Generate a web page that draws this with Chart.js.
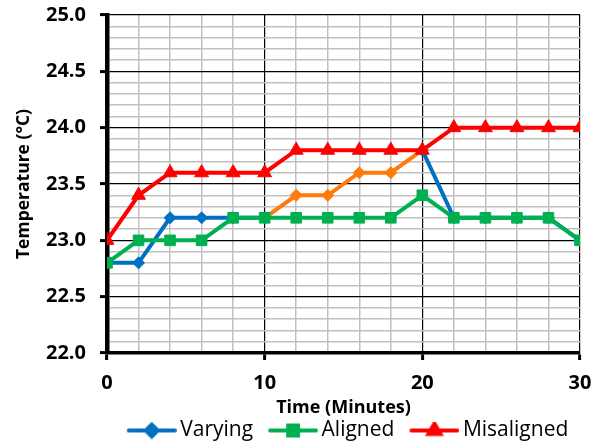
<!DOCTYPE html>
<html>
<head>
<meta charset="utf-8">
<script src="https://cdn.jsdelivr.net/npm/chart.js@4/dist/chart.umd.min.js"></script>
<style>
  body { margin: 0; background: #fff; }
</style>
</head>
<body>
<canvas id="chart" width="601" height="443"></canvas>
<script>
// Data
const minutes = [0, 2, 4, 6, 8, 10, 12, 14, 16, 18, 20, 22, 24, 26, 28, 30]
const varying = [22.8, 22.8, 23.2, 23.2, 23.2, 23.2, 23.4, 23.4, 23.6, 23.6, 23.8, 23.2, 23.2, 23.2, 23.2, 23.0]
const aligned = [22.8, 23.0, 23.0, 23.0, 23.2, 23.2, 23.2, 23.2, 23.2, 23.2, 23.4, 23.2, 23.2, 23.2, 23.2, 23.0]
const misaligned = [23.0, 23.4, 23.6, 23.6, 23.6, 23.6, 23.8, 23.8, 23.8, 23.8, 23.8, 24.0, 24.0, 24.0, 24.0, 24.0]
const seriesNames = ['Varying', 'Aligned', 'Misaligned']
const xTickLabels = [0, 10, 20, 30]
const yTickLabels = [22.0, 22.5, 23.0, 23.5, 24.0, 24.5, 25.0]

// the varying line turns orange between these minutes
const orangeFrom = 10
const orangeTo = 20

const BLUE = '#0070C0'
const GREEN = '#00B050'
const RED = '#FF0000'
const ORANGE = '#FF7A0A'
const FONT = "'Open Sans', sans-serif"

const toPoints = (ys) => minutes.map((x, i) => ({ x, y: ys[i] }))
const isMajorY = (v) => yTickLabels.some((t) => Math.abs(t - v) < 1e-6)
const isMajorX = (v) => xTickLabels.includes(v)
const inOrange = (x) => x > orangeFrom && x < orangeTo

// legend symbol: line with marker in the middle (left part of the image is empty)
function legendIcon(color, style, size) {
  const c = document.createElement('canvas')
  c.width = 65
  c.height = 18
  const ctx = c.getContext('2d')
  ctx.strokeStyle = color
  ctx.lineWidth = 4
  ctx.lineCap = 'round'
  ctx.beginPath()
  ctx.moveTo(17, 9)
  ctx.lineTo(63, 9)
  ctx.stroke()
  ctx.fillStyle = color
  Chart.helpers.drawPoint(ctx, { pointStyle: style, radius: size, borderWidth: 1, rotation: 0 }, 40, 9)
  return c
}

new Chart(document.getElementById('chart'), {
  type: 'line',
  data: {
    datasets: [
      {
        label: seriesNames[0],
        data: toPoints(varying),
        borderColor: BLUE,
        backgroundColor: BLUE,
        pointBackgroundColor: (c) => (c.raw && inOrange(c.raw.x) ? ORANGE : BLUE),
        pointBorderColor: (c) => (c.raw && inOrange(c.raw.x) ? ORANGE : BLUE),
        segment: {
          borderColor: (c) => (c.p0.parsed.x >= orangeFrom && c.p1.parsed.x <= orangeTo ? ORANGE : undefined),
        },
        pointStyle: 'rectRot',
        pointRadius: 6,
        order: 2,
        legendIcon: legendIcon(BLUE, 'rectRot', 6),
      },
      {
        label: seriesNames[1],
        data: toPoints(aligned),
        borderColor: GREEN,
        backgroundColor: GREEN,
        pointStyle: 'rect',
        pointRadius: 7.5,
        order: 1,
        legendIcon: legendIcon(GREEN, 'rect', 7),
      },
      {
        label: seriesNames[2],
        data: toPoints(misaligned),
        borderColor: RED,
        backgroundColor: RED,
        pointStyle: 'triangle',
        pointRadius: 8,
        order: 0,
        legendIcon: legendIcon(RED, 'triangle', 7),
      },
    ],
  },
  options: {
    responsive: false,
    animation: false,
    events: [],
    layout: { padding: { left: 0, right: 21, top: 15, bottom: -8 } },
    elements: {
      line: { borderWidth: 4, tension: 0 },
      point: { borderWidth: 1 },
    },
    scales: {
      x: {
        type: 'linear',
        min: 0,
        max: 30,
        afterFit(scale) {
          scale.height = 60
          scale.paddingLeft = 0
          scale.paddingRight = 0
        },
        ticks: {
          stepSize: 2,
          autoSkip: false,
          maxRotation: 0,
          padding: 11,
          color: '#000',
          font: { family: FONT, size: 20, weight: 'bold' },
          callback: (v) => (isMajorX(v) ? String(v) : ''),
        },
        grid: {
          color: (c) => (isMajorX(c.tick.value) ? '#000' : '#C0C0C0'),
          lineWidth: (c) => (isMajorX(c.tick.value) ? 1.2 : 1.5),
          tickLength: 7,
          tickColor: (c) => (isMajorX(c.tick.value) ? '#000' : 'rgba(0,0,0,0)'),
          tickWidth: 3,
        },
        border: { color: '#000', width: 3.5 },
        title: {
          display: true,
          text: 'Time (Minutes)',
          color: '#000',
          font: { family: FONT, size: 18, weight: 'bold' },
          padding: { top: 0, bottom: -6 },
        },
      },
      y: {
        min: 22,
        max: 25,
        afterFit(scale) {
          scale.width = 107
          scale.paddingTop = 0
          scale.paddingBottom = 0
        },
        ticks: {
          stepSize: 0.1,
          autoSkip: false,
          padding: 14,
          color: '#000',
          font: { family: FONT, size: 20, weight: 'bold' },
          callback: (v) => (isMajorY(v) ? v.toFixed(1) : ''),
        },
        grid: {
          color: (c) => (isMajorY(c.tick.value) ? '#000' : '#C0C0C0'),
          lineWidth: (c) => (isMajorY(c.tick.value) ? 1.2 : 1.5),
          tickLength: 7,
          tickColor: (c) => (isMajorY(c.tick.value) ? '#000' : 'rgba(0,0,0,0)'),
          tickWidth: 3,
        },
        border: { color: '#000', width: 4.5 },
        title: {
          display: true,
          text: 'Temperature (°C)',
          color: '#000',
          font: { family: FONT, size: 17.5, weight: 'bold' },
          padding: { top: 14, bottom: 0 },
        },
      },
    },
    plugins: {
      tooltip: { enabled: false },
      legend: {
        position: 'bottom',
        fullSize: false,
        labels: {
          usePointStyle: true,
          pointStyleWidth: 51,
          padding: 7,
          color: '#000',
          font: { family: FONT, size: 21 },
          generateLabels(chart) {
            return chart.data.datasets.map((ds, i) => ({
              text: ds.label,
              datasetIndex: i,
              pointStyle: ds.legendIcon,
              fillStyle: ds.borderColor,
              strokeStyle: ds.borderColor,
              lineWidth: 0,
              hidden: false,
            }))
          },
        },
      },
    },
  },
})
</script>
</body>
</html>
